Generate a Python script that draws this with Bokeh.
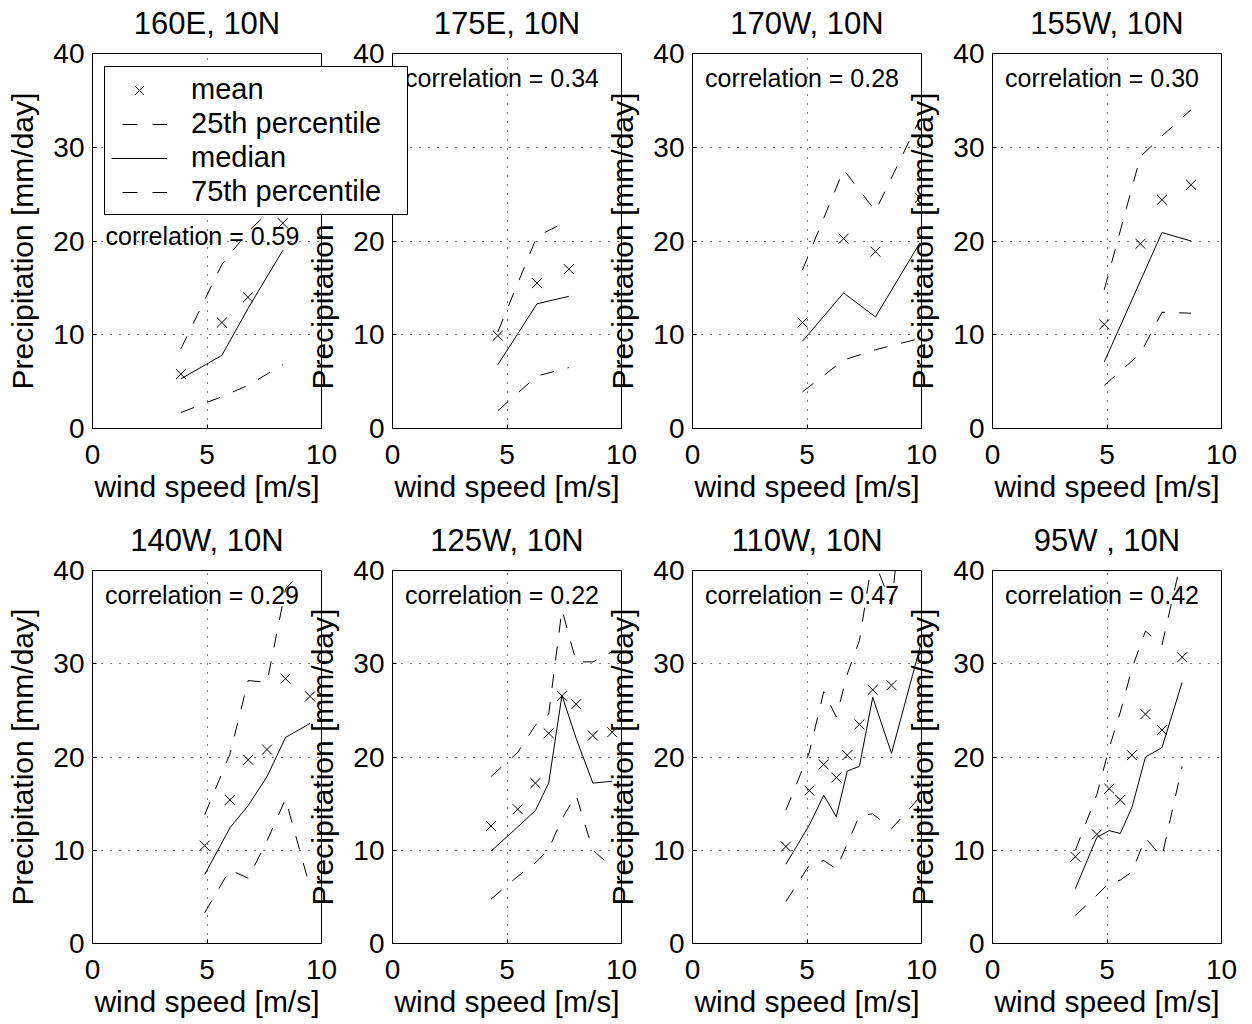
from bokeh.plotting import figure
from bokeh.models import FixedTicker, Legend, LegendItem, GridBox, Label, Range1d
from bokeh.embed import file_html
from bokeh.resources import INLINE

FONT = "Liberation Sans"

titles = ["160E, 10N", "175E, 10N", "170W, 10N", "155W, 10N",
          "140W, 10N", "125W, 10N", "110W, 10N", "95W , 10N"]
correlations = [0.59, 0.34, 0.28, 0.30, 0.29, 0.22, 0.47, 0.42]
legend_labels = ["mean", "25th percentile", "median", "75th percentile"]
x_ticks = [0, 5, 10]
y_ticks = [0, 10, 20, 30, 40]

# 160E, 10N
wind_160E = [3.86, 5.65, 6.79, 8.31]
mean_160E = [5.8, 11.3, 14.0, 21.9]
p25_160E = [1.7, 3.4, 4.6, 6.8]
median_160E = [5.3, 7.8, 12.8, 19.0]
p75_160E = [8.5, 17.5, 21.0, 24.5]

# 175E, 10N
wind_175E = [4.6, 6.31, 7.7]
mean_175E = [9.9, 15.5, 17.0]
p25_175E = [1.9, 5.6, 6.5]
median_175E = [6.8, 13.3, 14.1]
p75_175E = [10.3, 20.5, 22.2]

# 170W, 10N
wind_170W = [4.8, 6.6, 7.99, 9.93]
mean_170W = [11.3, 20.25, 18.86, 24.6]
p25_170W = [3.9, 7.3, 8.4, 9.6]
median_170W = [9.3, 14.46, 11.9, 19.8]
p75_170W = [16.9, 27.6, 23.2, 33.0]

# 155W, 10N
wind_155W = [4.88, 6.46, 7.4, 8.67]
mean_155W = [11.1, 19.7, 24.4, 26.0]
p25_155W = [4.6, 8.0, 12.4, 12.3]
median_155W = [7.1, 15.75, 20.9, 20.0]
p75_155W = [14.8, 29.0, 31.2, 34.0]

# 140W, 10N
wind_140W = [4.9, 6.0, 6.8, 7.62, 8.43, 9.5]
mean_140W = [10.5, 15.4, 19.7, 20.8, 28.4, 26.5]
p25_140W = [3.3, 7.9, 7.0, 11.0, 15.5, 6.0]
median_140W = [7.4, 12.4, 14.8, 17.9, 22.1, 23.6]
p75_140W = [13.8, 20.3, 28.2, 28.0, 38.0, 41.0]

# 125W, 10N
wind_125W = [4.3, 5.47, 6.24, 6.82, 7.4, 8.02, 8.75, 9.59]
mean_125W = [12.6, 14.4, 17.2, 22.55, 26.56, 25.67, 22.3, 22.66]
p25_125W = [4.75, 7.2, 8.65, 10.1, 13.4, 15.9, 10.0, 8.2]
median_125W = [9.9, 12.5, 14.26, 17.2, 26.6, 22.0, 17.2, 17.4]
p75_125W = [17.9, 20.5, 23.4, 24.6, 35.8, 30.2, 30.2, 31.3]

# 110W, 10N
wind_110W = [4.08, 5.1, 5.73, 6.28, 6.76, 7.29, 7.87, 8.69, 10.4]
mean_110W = [10.4, 16.4, 19.2, 17.8, 20.2, 23.5, 27.2, 27.7, 33.0]
p25_110W = [4.5, 8.4, 8.9, 8.0, 10.7, 13.7, 13.9, 12.3, 17.0]
median_110W = [8.5, 12.7, 15.9, 13.6, 18.5, 19.0, 26.4, 20.4, 36.0]
p75_110W = [14.3, 20.5, 27.0, 24.3, 28.9, 32.5, 41.5, 36.3, 75.0]

# 95W, 10N
wind_95W = [3.62, 4.56, 5.1, 5.58, 6.09, 6.68, 7.4, 8.28]
mean_95W = [9.3, 11.7, 16.6, 15.4, 20.2, 24.6, 22.9, 30.7]
p25_95W = [3.0, 5.2, 6.5, 6.8, 7.7, 11.3, 9.3, 19.0]
median_95W = [5.9, 11.4, 12.1, 11.8, 14.6, 20.0, 21.0, 28.0]
p75_95W = [10.0, 16.0, 21.0, 24.8, 29.5, 33.5, 32.0, 41.5]

stations = [
    (wind_160E, mean_160E, p25_160E, median_160E, p75_160E),
    (wind_175E, mean_175E, p25_175E, median_175E, p75_175E),
    (wind_170W, mean_170W, p25_170W, median_170W, p75_170W),
    (wind_155W, mean_155W, p25_155W, median_155W, p75_155W),
    (wind_140W, mean_140W, p25_140W, median_140W, p75_140W),
    (wind_125W, mean_125W, p25_125W, median_125W, p75_125W),
    (wind_110W, mean_110W, p25_110W, median_110W, p75_110W),
    (wind_95W, mean_95W, p25_95W, median_95W, p75_95W),
]

# ---------------- layout (pixels) ----------------
FRAME_W = 229
LEFT = 92
TOP = 63
RIGHT = 20
FIG_W = LEFT + FRAME_W + RIGHT          # 341
# grid tracks; the 2nd column / 2nd row form the cell that holds the legend
col_widths = [104, 196, 41, 67, 192, 41, 259, 41, 300]
row_heights = [76, 152, 289, 515]
fig_rows = [(0, 3), (3, 1)]               # (first track, span) per panel row
fig_cols = [(0, 3), (2, 4), (5, 3), (7, 2)]
frame_heights = [375, 373]
DASH = "14 14"


def style_panel(p):
    p.border_fill_color = None
    p.background_fill_color = None
    p.outline_line_color = "black"
    p.outline_line_width = 1

    p.title.align = "center"
    p.title.text_font = FONT
    p.title.text_font_size = "31px"
    p.title.text_font_style = "normal"
    p.title.text_color = "black"
    p.title.standoff = 26

    p.xaxis.ticker = FixedTicker(ticks=x_ticks)
    p.yaxis.ticker = FixedTicker(ticks=y_ticks)
    p.xaxis.axis_label = "wind speed [m/s]"
    p.yaxis.axis_label = "Precipitation [mm/day]"
    for ax in p.xaxis + p.yaxis:
        ax.major_label_text_font = FONT
        ax.major_label_text_font_size = "28px"
        ax.major_label_text_color = "black"
        ax.axis_label_text_font = FONT
        ax.axis_label_text_font_size = "30px"
        ax.axis_label_text_font_style = "normal"
        ax.axis_label_text_color = "black"
        ax.major_tick_in = 4
        ax.major_tick_out = 0
        ax.major_tick_line_color = "black"
        ax.minor_tick_line_color = None
        ax.axis_line_color = "black"
    p.xaxis.major_label_standoff = 16
    p.xaxis.axis_label_standoff = 3
    p.yaxis.major_label_standoff = 8
    p.yaxis.axis_label_standoff = 11

    p.grid.grid_line_color = "black"
    p.grid.grid_line_dash = "1 8"
    p.grid.grid_line_width = 1


def make_panel(k):
    wind, mean, p25, med, p75 = stations[k]
    r = k // 4
    r0, rspan = fig_rows[r]
    height = sum(row_heights[r0:r0 + rspan])
    p = figure(width=FIG_W, height=height,
               x_range=Range1d(0, 10), y_range=Range1d(0, 40),
               output_backend="svg", toolbar_location=None,
               min_border_left=LEFT, min_border_right=RIGHT,
               min_border_top=TOP, min_border_bottom=height - TOP - frame_heights[r],
               title=titles[k])
    style_panel(p)

    p.line(wind, p25, line_color="black", line_width=1, line_dash=DASH)
    p.line(wind, med, line_color="black", line_width=1)
    p.line(wind, p75, line_color="black", line_width=1, line_dash=DASH)
    p.scatter(wind, mean, marker="x", size=14, line_color="black", line_width=1)

    if k == 0:
        cx, cy = 0.57, 20.5
    else:
        cx, cy = 0.55, 37.4
    p.add_layout(Label(x=cx, y=cy, text=f"correlation = {correlations[k]:.2f}",
                       text_font=FONT, text_font_size="25px", text_color="black",
                       text_baseline="middle", text_align="left"))
    return p


panels = [make_panel(k) for k in range(8)]

# Legend of the first panel: drawn on a transparent overlay figure whose frame
# is exactly the legend cell, so that it can reach over the second panel.
# Its renderers carry the first station's series, but its ranges lie away from
# the data, so only the legend itself is painted there.
LEG_W = sum(col_widths[1:4])
LEG_H = row_heights[1]
leg_fig = figure(width=LEG_W, height=LEG_H,
                 x_range=Range1d(-2, -1), y_range=Range1d(-2, -1),
                 x_axis_type=None, y_axis_type=None,
                 output_backend="svg", toolbar_location=None, min_border=0)
leg_fig.border_fill_color = None
leg_fig.background_fill_color = None
leg_fig.outline_line_color = None
lr_mean = leg_fig.scatter(wind_160E, mean_160E, marker="x", size=14,
                          line_color="black", line_width=1)
lr_p25 = leg_fig.line(wind_160E, p25_160E, line_color="black", line_width=1,
                      line_dash="15 15", line_dash_offset=19)
lr_med = leg_fig.line(wind_160E, median_160E, line_color="black", line_width=1)
lr_p75 = leg_fig.line(wind_160E, p75_160E, line_color="black", line_width=1,
                      line_dash="15 15", line_dash_offset=19)
legend = Legend(items=[
    LegendItem(label=legend_labels[0], renderers=[lr_mean]),
    LegendItem(label=legend_labels[1], renderers=[lr_p25]),
    LegendItem(label=legend_labels[2], renderers=[lr_med]),
    LegendItem(label=legend_labels[3], renderers=[lr_p75]),
], location="top_left")
legend.margin = 0
legend.padding = 6
legend.spacing = 1
legend.glyph_width = 56
legend.glyph_height = 30
legend.label_standoff = 24
legend.label_width = 210
legend.label_text_font = FONT
legend.label_text_font_size = "29px"
legend.label_text_color = "black"
legend.border_line_color = "black"
legend.border_line_alpha = 1
legend.border_line_width = 1
legend.background_fill_color = "white"
legend.background_fill_alpha = 1
leg_fig.add_layout(legend)

# later children are painted on top of earlier ones
children = []
for k in [3, 2, 1, 0, 7, 6, 5, 4]:
    r, c = divmod(k, 4)
    r0, rspan = fig_rows[r]
    c0, cspan = fig_cols[c]
    children.append((panels[k], r0, c0, rspan, cspan))
children.append((leg_fig, 1, 1, 1, 3))

grid = GridBox(children=children,
               cols=[f"{w}px" for w in col_widths],
               rows=[f"{h}px" for h in row_heights],
               spacing=0)
grid.margin = (-10, 0, -30, 0)

open("out.html", "w").write(file_html(grid, INLINE))
